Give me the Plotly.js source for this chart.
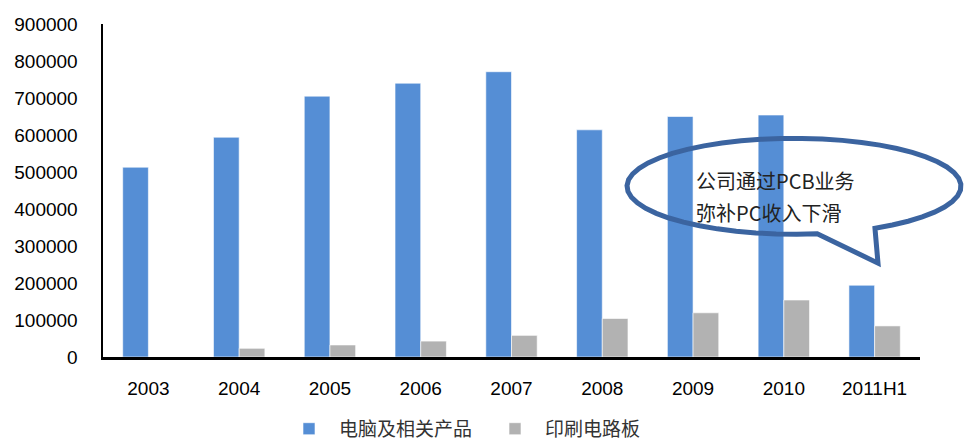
<!DOCTYPE html>
<html>
<head>
<meta charset="utf-8">
<script src="https://cdn.plot.ly/plotly-3.0.1.min.js"></script>
<style>html,body{margin:0;padding:0;background:#fff;}#chart{width:968px;height:442px;}</style>
</head>
<body>
<div id="chart"></div>
<script>
const categories = ["2003","2004","2005","2006","2007","2008","2009","2010","2011H1"];
const pcProducts = [513000, 594000, 705000, 740000, 771000, 614000, 650000, 654000, 194000];
const pcbBoards  = [null, 23500, 32500, 43000, 58500, 104000, 119500, 154000, 84000];
const seriesNames = ["电脑及相关产品", "印刷电路板"];
const calloutLines = ["公司通过PCB业务", "弥补PC收入下滑"];

const W = 968, H = 442;
const M = {l: 103, r: 48, t: 23.5, b: 85, autoexpand: false};
const PW = W - M.l - M.r, PH = H - M.t - M.b;
const px = x => (x - M.l) / PW;
const py = y => (H - M.b - y) / PH;

// speech bubble outline (annotation decoration, pixel geometry -> paper)
function bubblePath() {
  const cx = 794, cy = 186, rx = 167, ry = 48;
  const a0 = 82 * Math.PI / 180, a1 = (360 + 61) * Math.PI / 180;
  const n = 48;
  let d = "";
  for (let i = 0; i <= n; i++) {
    const a = a0 + (a1 - a0) * i / n;
    const x = cx + rx * Math.cos(a), y = cy + ry * Math.sin(a);
    d += (i === 0 ? "M" : "L") + px(x).toFixed(5) + "," + py(y).toFixed(5);
  }
  d += "L" + px(878).toFixed(5) + "," + py(263).toFixed(5) + "Z";
  return d;
}

const font = "Liberation Sans, Arial, Noto Sans CJK SC, sans-serif";

const data = [
  {type: "bar", x: categories, y: pcProducts, name: seriesNames[0],
   marker: {color: "#558ED5", line: {color: "#ffffff", width: 0.6}}},
  {type: "bar", x: categories, y: pcbBoards, name: seriesNames[1],
   marker: {color: "#B2B2B2", line: {color: "#ffffff", width: 0.6}}}
];

const layout = {
  width: W, height: H,
  margin: M,
  paper_bgcolor: "#fff", plot_bgcolor: "#fff",
  font: {family: font, size: 19, color: "#000"},
  barmode: "group", bargap: 0.434, bargroupgap: 0,
  showlegend: true,
  legend: {orientation: "h", x: px(279), xanchor: "left", y: py(448), yanchor: "bottom",
           font: {family: "Noto Sans CJK SC, sans-serif", size: 19, color: "#333"},
           itemwidth: 50, entrywidth: 141, traceorder: "normal"},
  xaxis: {type: "category", showline: true, linecolor: "#000", linewidth: 2.5,
          showgrid: false, ticks: "", ticklabelstandoff: 13,
          tickfont: {size: 19, color: "#000"}, fixedrange: true},
  yaxis: {range: [0, 900000], dtick: 100000, tick0: 0, showline: true, linecolor: "#000",
          linewidth: 2.5, showgrid: false, zeroline: false, ticks: "",
          ticklabelstandoff: 19, tickformat: "d", tickfont: {size: 19, color: "#000"},
          fixedrange: true},
  shapes: [
    {type: "path", xref: "paper", yref: "paper", path: bubblePath(),
     line: {color: "#3B64A0", width: 5}, fillcolor: "rgba(0,0,0,0)"}
  ],
  annotations: [
    {xref: "paper", yref: "paper", x: px(694), y: py(180), xanchor: "left", yanchor: "middle",
     text: calloutLines[0], showarrow: false, align: "left",
     font: {family: "Noto Sans CJK SC, sans-serif", size: 20, color: "#222"}},
    {xref: "paper", yref: "paper", x: px(694), y: py(212), xanchor: "left", yanchor: "middle",
     text: calloutLines[1], showarrow: false, align: "left",
     font: {family: "Noto Sans CJK SC, sans-serif", size: 20, color: "#222"}}
  ]
};

Plotly.newPlot("chart", data, layout, {displayModeBar: false, staticPlot: true});
</script>
</body>
</html>
